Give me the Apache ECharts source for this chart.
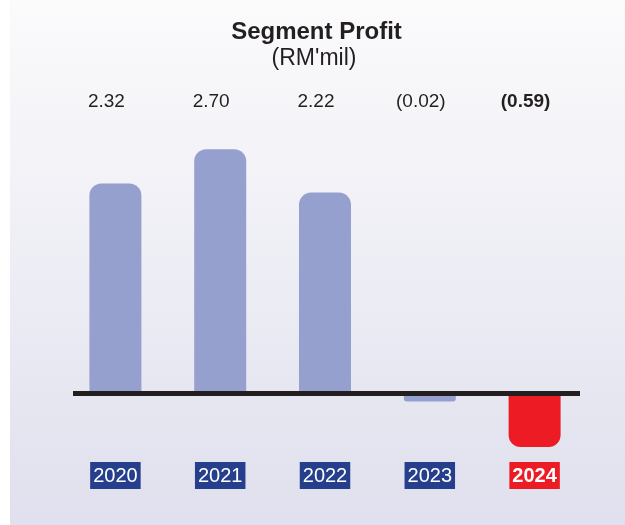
<!DOCTYPE html>
<html>
<head>
<meta charset="utf-8">
<title>Segment Profit</title>
<script src="https://cdn.jsdelivr.net/npm/echarts@6/dist/echarts.min.js"></script>
<style>
    html, body { margin: 0; padding: 0; background: #ffffff; }
    #chart { width: 625px; height: 525px; }
</style>
</head>
<body>
<div id="chart"></div>
<script>
    // data
    var years = ['2020', '2021', '2022', '2023', '2024'];
    var profit = [2.32, 2.70, 2.22, -0.02, -0.59];
    var highlightIndex = 4;

    var fontFamily = '"Liberation Sans", Arial, Helvetica, sans-serif';
    var barColor = '#96A0CF';
    var redColor = '#ED1C24';
    var navyColor = '#253F8D';

    // (0.59) style for negatives
    function fmt(v) {
        return v < 0 ? '(' + Math.abs(v).toFixed(2) + ')' : v.toFixed(2);
    }
    var valueLabels = profit.map(fmt);

    var chart = echarts.init(document.getElementById('chart'));

    var option = {
        animation: false,
        textStyle: { fontFamily: fontFamily },
        graphic: [{
            type: 'rect',
            z: -10,
            silent: true,
            shape: { x: 10, y: 0, width: 615, height: 525 },
            style: {
                fill: new echarts.graphic.LinearGradient(0, 0, 0, 1, [
                    { offset: 0, color: '#FBFBFC' },
                    { offset: 1, color: '#E0E0EE' }
                ])
            }
        }],
        title: [{
            text: 'Segment Profit',
            left: 316.5,
            textAlign: 'center',
            top: 20,
            padding: 0,
            textStyle: { fontSize: 24, fontWeight: 'bold', color: '#231F20', fontFamily: fontFamily }
        }, {
            text: "(RM'mil)",
            left: 314,
            textAlign: 'center',
            top: 47,
            padding: 0,
            textStyle: { fontSize: 23, fontWeight: 'normal', color: '#231F20', fontFamily: fontFamily }
        }],
        grid: [{
            left: 63,
            right: 38,
            top: 122,
            height: 335
        }, {
            // zero line
            left: 73,
            right: 45,
            top: 393.5,
            height: 1
        }],
        xAxis: [{
            type: 'category',
            gridIndex: 0,
            data: years,
            position: 'bottom',
            axisLine: { show: false },
            axisTick: { show: false },
            axisLabel: {
                margin: 5,
                interval: 0,
                formatter: function(v, i) {
                    return i === highlightIndex ? '{r|' + v + '}' : '{n|' + v + '}';
                },
                rich: {
                    n: {
                        fontSize: 20, color: '#ffffff', backgroundColor: navyColor,
                        padding: [4, 3, 3, 3], fontFamily: fontFamily
                    },
                    r: {
                        fontSize: 20, color: '#ffffff', fontWeight: 'bold', backgroundColor: redColor,
                        padding: [4, 3, 3, 3], fontFamily: fontFamily
                    }
                }
            }
        }, {
            type: 'category',
            gridIndex: 0,
            data: valueLabels,
            position: 'top',
            axisLine: { show: false },
            axisTick: { show: false },
            axisLabel: {
                margin: 11,
                interval: 0,
                padding: [0, 18, 0, 0],
                formatter: function(v, i) {
                    return i === highlightIndex ? '{b|' + v + '}' : '{t|' + v + '}';
                },
                rich: {
                    t: { fontSize: 19, color: '#231F20', fontFamily: fontFamily },
                    b: { fontSize: 19, color: '#231F20', fontWeight: 'bold', fontFamily: fontFamily }
                }
            }
        }, {
            type: 'value',
            gridIndex: 1,
            min: 0,
            max: 1,
            position: 'top',
            z: 10,
            axisLine: { show: true, onZero: false, lineStyle: { color: '#231F20', width: 5, cap: 'butt' } },
            axisTick: { show: false },
            axisLabel: { show: false },
            splitLine: { show: false }
        }],
        yAxis: [{
            type: 'value',
            gridIndex: 0,
            min: -0.7,
            max: 3,
            show: false
        }, {
            type: 'value',
            gridIndex: 1,
            min: 0,
            max: 1,
            show: false
        }],
        series: [{
            type: 'bar',
            xAxisIndex: 0,
            yAxisIndex: 0,
            barWidth: 52,
            barMinHeight: 8,
            data: profit.map(function(v, i) {
                var r = Math.abs(v) < 0.1 ? 3 : 12;
                return {
                    value: v,
                    itemStyle: {
                        color: i === highlightIndex ? redColor : barColor,
                        borderRadius: v < 0 ? [0, 0, r, r] : [r, r, 0, 0]
                    }
                };
            })
        }]
    };

    chart.setOption(option);
</script>
</body>
</html>
